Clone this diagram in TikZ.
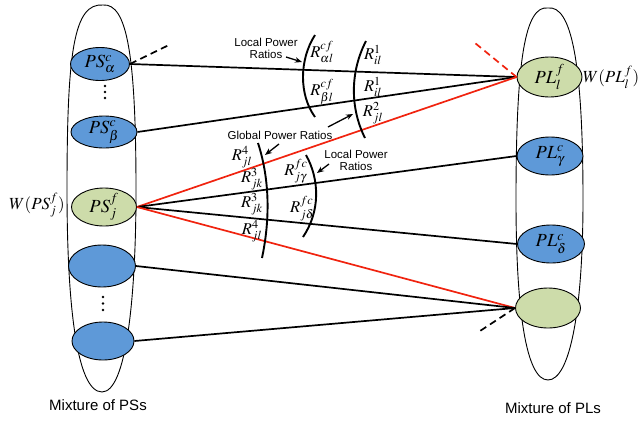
\documentclass[tikz,border=0pt]{standalone}
\usepackage{mathptmx}
\usepackage[no-math]{fontspec}
\setmainfont{Liberation Sans}
\usetikzlibrary{arrows.meta,shapes.geometric}

\definecolor{psblue}{RGB}{94,153,216}
\definecolor{plgreen}{RGB}{205,220,170}
\definecolor{linkred}{RGB}{240,35,15}

\tikzset{
  container/.style={draw=black, line width=0.9pt},
  member/.style={ellipse, draw=black, line width=0.9pt, inner sep=0pt,
                 font=\fontsize{18.5}{18.5}\selectfont},
  bluemember/.style={member, fill=psblue},
  greenmember/.style={member, fill=plgreen},
  link/.style={draw=black, line width=1.7pt},
  redlink/.style={draw=linkred, line width=1.7pt},
  dashlink/.style={dash pattern=on 7pt off 4.5pt},
  ratioarc/.style={draw=black, line width=1.9pt},
  callout/.style={draw=black, line width=1.3pt, -{Stealth[length=7pt,width=5.5pt]}},
  caption/.style={font=\fontsize{11.5}{12}\selectfont, align=center, inner sep=0pt},
  ratio/.style={font=\fontsize{16.5}{16.5}\selectfont, inner sep=0pt},
  weight/.style={font=\fontsize{17}{17}\selectfont, inner sep=0pt},
  groupname/.style={font=\fontsize{15}{15}\selectfont, inner sep=0pt},
}

\begin{document}
\begin{tikzpicture}[x=1pt,y=-1pt]
\useasboundingbox (0,0) rectangle (641,421);

% the two mixtures
\draw[container] (103,5) .. controls (74,3) and (67,50) .. (67,190)
  .. controls (67,300) and (76,392) .. (102,392)
  .. controls (126,392) and (136,300) .. (136,190)
  .. controls (136,55) and (127,3) .. (103,5);
\draw[container] (548,8) .. controls (525,5) and (516,60) .. (516,200)
  .. controls (516,310) and (526,380) .. (548,380)
  .. controls (570,380) and (583,310) .. (583,200)
  .. controls (583,60) and (571,5) .. (548,8);

% members of the PS mixture
\node[bluemember, minimum width=59pt, minimum height=33pt] (psa) at (100,64) {$PS^c_\alpha$};
\node[bluemember, minimum width=66pt, minimum height=32pt] (psb) at (104,132) {$PS^c_\beta$};
\node[greenmember, minimum width=65pt, minimum height=38pt] (psj) at (104,207) {$PS^f_j$};
\node[bluemember, minimum width=67pt, minimum height=42pt] (ps4) at (102,266) {};
\node[bluemember, minimum width=62pt, minimum height=38pt] (ps5) at (103,341) {};

% members of the PL mixture
\node[greenmember, minimum width=65pt, minimum height=40pt] (pll) at (549.5,77) {$PL^f_l$};
\node[bluemember, minimum width=66pt, minimum height=38pt] (plg) at (550,156) {$PL^c_\gamma$};
\node[bluemember, minimum width=67pt, minimum height=38pt] (pld) at (551,244) {$PL^c_\delta$};
\node[greenmember, minimum width=65pt, minimum height=40pt] (plx) at (548,308) {};

% elided members
\foreach \y in {86,92,98} \fill (105,\y) circle (1.4pt);
\foreach \y in {297,303.5,310} \fill (103,\y) circle (1.4pt);

% connections
\draw[link] (psa.east) -- (pll.west);
\draw[link] (psb.east) -- (pll.west);
\draw[redlink] (psj.east) -- (pll.west);
\draw[link] (psj.east) -- (plg.west);
\draw[link] (psj.east) -- (pld.west);
\draw[redlink] (psj.east) -- (plx.west);
\draw[link] (ps4.east) -- (plx.west);
\draw[link] (ps5.east) -- (plx.west);

% open-ended links
\coordinate (psaout) at (171,44);
\coordinate (pllout) at (475,43);
\coordinate (plxout) at (480,331);
\draw[link, dashlink] (psa.east) -- (psaout);
\draw[redlink, dashlink] (pll.west) -- (pllout);
\draw[link, dashlink] (plx.west) -- (plxout);

% weights
\node[weight] (wps) at (37,205) {$W(PS^f_j)$};
\node[weight] (wpl) at (611,77) {$W(PL^f_l)$};

% ratio arcs
\draw[ratioarc] (315,35) .. controls (299,60) and (299,95) .. (315,117);
\draw[ratioarc] (366,41) .. controls (350,72) and (350,108) .. (365,138);
\draw[ratioarc] (258,143) .. controls (270,180) and (270,220) .. (262,258);
\draw[ratioarc] (306,155) .. controls (320,180) and (320,212) .. (303,237);

% ratio labels
\node[ratio] (ral) at (322,52) {$R^{cf}_{\alpha l}$};
\node[ratio] (rbl) at (322,92) {$R^{cf}_{\beta l}$};
\node[ratio] (ril1) at (373,55) {$R^{1}_{il}$};
\node[ratio] (ril2) at (373,87) {$R^{1}_{il}$};
\node[ratio] (rjl2) at (373,113) {$R^{2}_{jl}$};
\node[ratio] (rjl4a) at (242,157) {$R^{4}_{jl}$};
\node[ratio] (rjk3a) at (252,179) {$R^{3}_{jk}$};
\node[ratio] (rjk3b) at (252,204) {$R^{3}_{jk}$};
\node[ratio] (rjl4b) at (252,231) {$R^{4}_{jl}$};
\node[ratio] (rjg) at (296,171) {$R^{fc}_{j\gamma}$};
\node[ratio] (rjd) at (302,209) {$R^{fc}_{j\delta}$};

% captions
\node[caption] (localtop) at (266,48) {Local Power\\Ratios};
\node[caption] (global) at (280,135.5) {Global Power Ratios};
\node[caption] (localbot) at (356,160) {Local Power\\Ratios};

\coordinate (lt0) at (286,57);  \coordinate (lt1) at (302,62);
\coordinate (gt0) at (328,127); \coordinate (gt1) at (353,114);
\coordinate (gb0) at (279,144); \coordinate (gb1) at (265,155);
\coordinate (lb0) at (329,164); \coordinate (lb1) at (317,173);
\draw[callout] (lt0) -- (lt1);
\draw[callout] (gt0) -- (gt1);
\draw[callout] (gb0) -- (gb1);
\draw[callout] (lb0) -- (lb1);

% group names
\node[groupname] (psname) at (98,405) {Mixture of PSs};
\node[groupname] (plname) at (553,408) {Mixture of PLs};
\end{tikzpicture}
\end{document}
